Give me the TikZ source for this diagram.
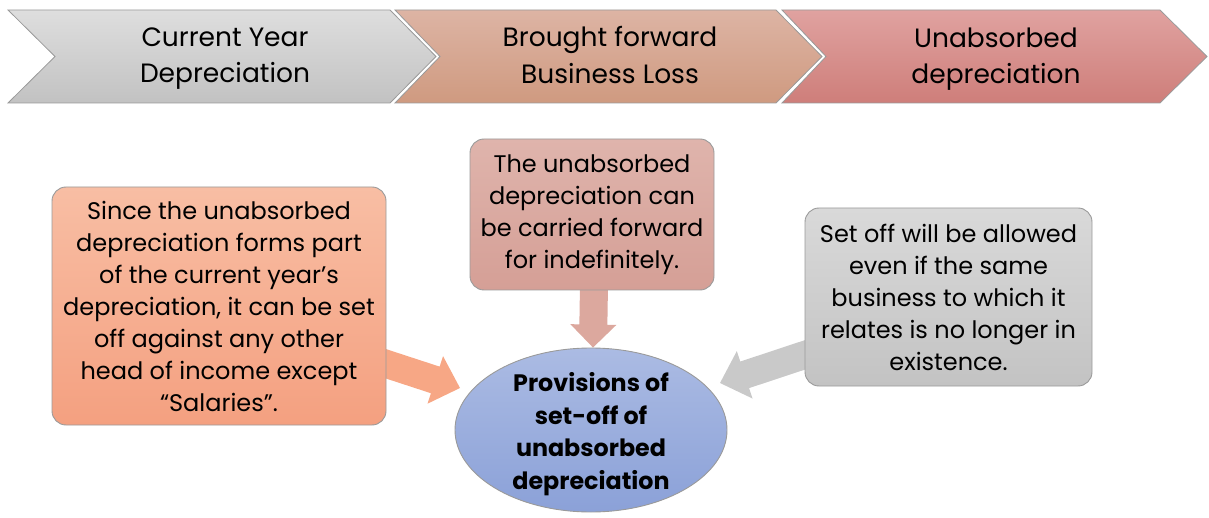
\documentclass[tikz,border=0pt]{standalone}
\usepackage{fontspec}
\setmainfont{Poppins}
\usetikzlibrary{calc,shapes.geometric,backgrounds}

\definecolor{cAt}{HTML}{DEDEDE}
\definecolor{cAb}{HTML}{C2C2C2}
\definecolor{cBt}{HTML}{DDB4A4}
\definecolor{cBb}{HTML}{CF9A80}
\definecolor{cCt}{HTML}{E0A2A0}
\definecolor{cCb}{HTML}{CE7E7A}
\definecolor{lboxt}{HTML}{F8BEA4}
\definecolor{lboxb}{HTML}{F4A080}
\definecolor{mboxt}{HTML}{DFB4AC}
\definecolor{mboxb}{HTML}{D59F96}
\definecolor{rboxt}{HTML}{D9D9D9}
\definecolor{rboxb}{HTML}{C3C3C3}
\definecolor{ellt}{HTML}{ABBBE3}
\definecolor{ellb}{HTML}{8BA1D8}
\definecolor{edgegray}{HTML}{9A9A9A}
\definecolor{arrDown}{HTML}{DCA89E}
\definecolor{arrLeft}{HTML}{F7A785}
\definecolor{arrRight}{HTML}{C9C9C9}

\newcommand{\blkarrow}[6]{% colour, start, tip, half shaft, half head, head length
  \coordinate (#3-h) at ($(#3)!#6!(#2)$);
  \fill[#1] ($(#2)!#4!90:(#3)$) -- ($(#3-h)!#4!90:(#3)$) -- ($(#3-h)!#5!90:(#3)$)
     -- (#3) -- ($(#3-h)!#5!-90:(#3)$) -- ($(#3-h)!#4!-90:(#3)$) -- ($(#2)!#4!-90:(#3)$) -- cycle;
}

\tikzset{
  chevshape/.style={draw=edgegray, line width=0.8pt},
  chevtext/.style={align=center, font=\fontsize{26.5}{36}\selectfont},
  infobox/.style={align=center, font=\fontsize{24}{32}\selectfont, rounded corners=14pt,
                  draw=edgegray, line width=0.9pt, inner sep=0pt},
}

\begin{document}
\begin{tikzpicture}[x=1pt,y=-1pt]
\useasboundingbox (0,0) rectangle (1209,518);

% chevrons
\path[chevshape, top color=cCt, bottom color=cCb]
  (782,10) -- (1160,10) -- (1207,56.5) -- (1160,103) -- (782,103) -- (826,56.5) -- cycle;
\path[chevshape, top color=cBt, bottom color=cBb]
  (395,10) -- (776,10) -- (822,56.5) -- (776,103) -- (395,103) -- (440,56.5) -- cycle;
\path[chevshape, top color=cAt, bottom color=cAb]
  (8,10) -- (390,10) -- (436,56.5) -- (390,103) -- (8,103) -- (55,56.5) -- cycle;

\node[chevtext] (c1) at (225,59) {Current Year\\Depreciation};
\node[chevtext] (c2) at (610,55) {Brought forward\\Business Loss};
\node[chevtext] (c3) at (996,59) {Unabsorbed\\depreciation};

% boxes
\node[infobox, minimum width=334pt, minimum height=238pt, top color=lboxt, bottom color=lboxb]
  (lbox) at (219,306) {Since the unabsorbed\\depreciation forms part\\of the current year’s\\depreciation, it can be set\\off against any other\\head of income except\\“Salaries”.};
\node[infobox, minimum width=244pt, minimum height=151pt, top color=mboxt, bottom color=mboxb]
  (mbox) at (592,214.5) {The unabsorbed\\depreciation can\\be carried forward\\for indefinitely.};
\node[infobox, minimum width=287pt, minimum height=178pt, top color=rboxt, bottom color=rboxb]
  (rbox) at (948.5,297) {Set off will be allowed\\even if the same\\business to which it\\relates is no longer in\\existence.};

\node[ellipse, minimum width=272pt, minimum height=164pt, inner sep=-35pt, draw=edgegray,
      line width=0.9pt, top color=ellt, bottom color=ellb, align=center,
      font=\fontsize{23.8}{32.5}\selectfont\bfseries]
  (ell) at (591,430) {\raisebox{0pt}[\dimexpr\height+8pt\relax]{Provisions of}\\set-off of\\unabsorbed\\depreciation};

% block arrows
\begin{scope}[on background layer]
  \coordinate (dstart) at ($(mbox.south)+(2,-6)$);
  \coordinate (dtip) at ($(ell.north)+(2,0)$);
  \blkarrow{arrDown}{dstart}{dtip}{14pt}{23pt}{23pt}
  \coordinate (lstart) at ($(lbox.east)+(-6,56)$);
  \coordinate (ltip) at (460,388);
  \blkarrow{arrLeft}{lstart}{ltip}{14pt}{25pt}{26pt}
  \coordinate (rstart) at ($(rbox.west)+(6,56)$);
  \coordinate (rtip) at (720,383);
  \blkarrow{arrRight}{rstart}{rtip}{14pt}{25pt}{26pt}
\end{scope}
\end{tikzpicture}
\end{document}
